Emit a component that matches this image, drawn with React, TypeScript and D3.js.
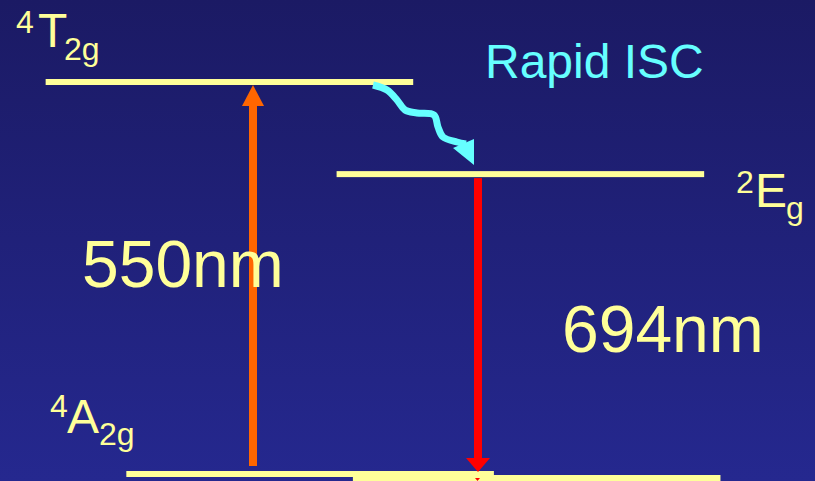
import React from "react";
import * as d3 from "d3";

// Schematic energy levels (relative diagram units, ground = 0, top = 1)
const levelNames = ["4A2g", "2Eg", "4T2g"];
const levelEnergy = [0, 0.765, 1];
const levelStart = [0.155, 0.413, 0.056]; // fraction of width where level bar starts
const levelLength = 0.451;
const extraGroundStart = 0.433; // second (offset) ground bar

const transitionLabels = ["550nm", "694nm"];
const iscLabel = "Rapid ISC";

const W = 815;
const H = 481;
const YELLOW = "#FFFF99";

export default function App() {
  const y = d3.scaleLinear().domain([0, 1]).range([474, 82]);
  const x = d3.scaleLinear().domain([0, 1]).range([0, W]);

  const barH = 6;
  const yG = y(levelEnergy[0]);
  const yE = y(levelEnergy[1]);
  const yT = y(levelEnergy[2]);

  // wavy ISC path
  const wave: [number, number][] = [
    [373, 85], [387, 90], [397, 100], [405, 110], [417, 113],
    [434, 115], [438, 127], [443, 137], [457, 142], [466, 144],
  ];
  const waveLine = d3.line().curve(d3.curveCatmullRom.alpha(0.5))(wave) || "";

  const ox = 253; // orange arrow center
  const rx = 478; // red arrow center

  return (
    <svg
      width={W}
      height={H}
      style={{ position: "absolute", left: 0, top: 0, display: "block" }}
      fontFamily="'Liberation Sans', Arial, sans-serif"
    >
      <defs>
        <linearGradient id="bg" x1="0" y1="0" x2="0" y2="1">
          <stop offset="0" stopColor="#1B1A64" />
          <stop offset="1" stopColor="#25288F" />
        </linearGradient>
      </defs>
      <rect x={0} y={0} width={W} height={H} fill="url(#bg)" />

      {/* level bars */}
      {levelNames.map((n, i) => (
        <rect
          key={n}
          x={x(levelStart[i])}
          y={y(levelEnergy[i]) - barH / 2}
          width={x(levelLength)}
          height={barH}
          fill={YELLOW}
        />
      ))}
      <rect
        x={x(extraGroundStart)}
        y={yG + 1}
        width={x(levelLength)}
        height={barH + 4}
        fill={YELLOW}
      />

      {/* orange absorption arrow */}
      <rect x={ox - 4} y={yT + 23} width={8} height={yG - 8 - (yT + 23)} fill="#FF6600" />
      <polygon
        points={`${ox},${yT + 3} ${ox - 11},${yT + 24} ${ox + 11},${yT + 24}`}
        fill="#FF6600"
      />

      {/* red emission arrow */}
      <rect x={rx - 4} y={yE + 4} width={8} height={yG - 16 - (yE + 4)} fill="#FF0000" />
      <polygon
        points={`${rx - 12},${yG - 16} ${rx + 12},${yG - 16} ${rx},${yG - 2}`}
        fill="#FF0000"
      />
      <polygon
        points={`${rx - 3},${yG + 4} ${rx + 2},${yG + 4} ${rx - 0.5},${yG + 7}`}
        fill="#FF0000"
      />

      {/* ISC wavy arrow */}
      <path d={waveLine} fill="none" stroke="#66FFFF" strokeWidth={7} />
      <polygon points="474,139 453,148 474,165" fill="#66FFFF" />

      {/* labels */}
      <text x={485} y={78} fontSize={48} fill="#66FFFF">{iscLabel}</text>
      <text x={82} y={287} fontSize={66} fill={YELLOW}>{transitionLabels[0]}</text>
      <text x={562} y={352} fontSize={66} fill={YELLOW}>{transitionLabels[1]}</text>

      {/* 4T2g */}
      <g fill={YELLOW}>
        <text x={16} y={33} fontSize={32}>4</text>
        <text x={38} y={47} fontSize={48}>T</text>
        <text x={64} y={60} fontSize={32}>2g</text>
      </g>
      {/* 2Eg */}
      <g fill={YELLOW}>
        <text x={736} y={193} fontSize={32}>2</text>
        <text x={755} y={207} fontSize={48}>E</text>
        <text x={786} y={219} fontSize={32}>g</text>
      </g>
      {/* 4A2g */}
      <g fill={YELLOW}>
        <text x={50} y={417} fontSize={32}>4</text>
        <text x={67} y={433} fontSize={48}>A</text>
        <text x={99} y={445} fontSize={32}>2g</text>
      </g>
    </svg>
  );
}
